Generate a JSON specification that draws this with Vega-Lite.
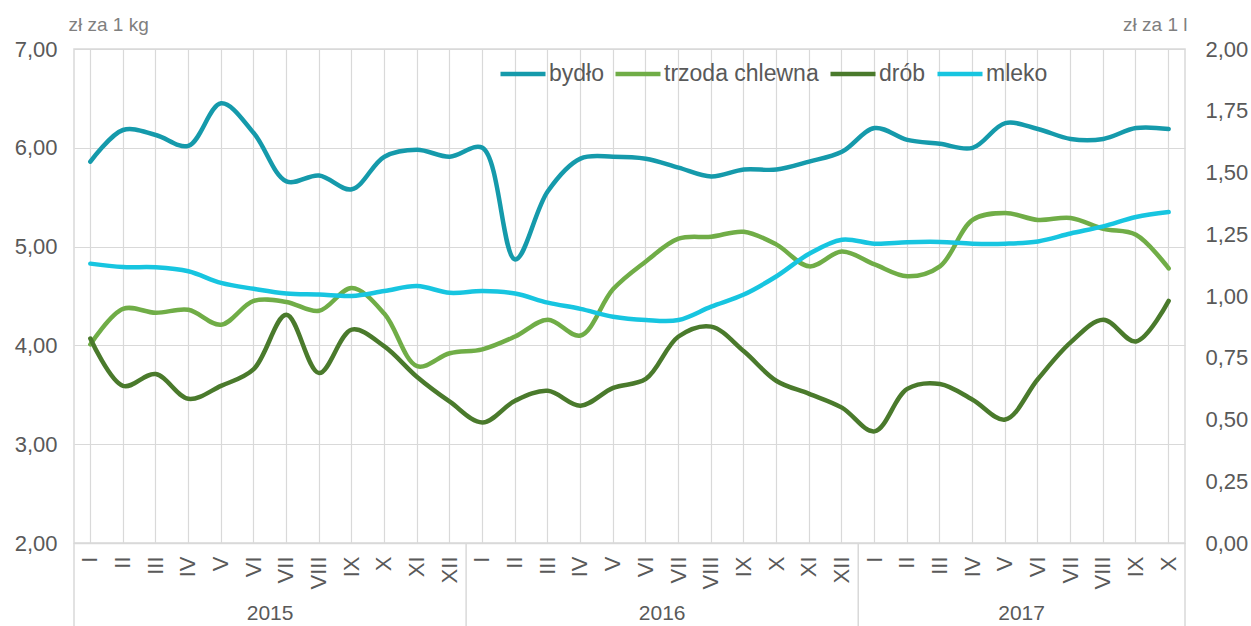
{
"$schema": "https://vega.github.io/schema/vega-lite/v6.json",
"autosize": {"type": "none"},
"width": 1111,
"height": 494,
"padding": {"left": 74, "top": 49, "right": 66, "bottom": 83},
"background": "white",
"datasets": {
"ceny": [
{"okres":"2015-01","seria":"bydło","cena":5.86},{"okres":"2015-02","seria":"bydło","cena":6.18},{"okres":"2015-03","seria":"bydło","cena":6.13},{"okres":"2015-04","seria":"bydło","cena":6.02},{"okres":"2015-05","seria":"bydło","cena":6.45},{"okres":"2015-06","seria":"bydło","cena":6.15},{"okres":"2015-07","seria":"bydło","cena":5.66},{"okres":"2015-08","seria":"bydło","cena":5.72},{"okres":"2015-09","seria":"bydło","cena":5.58},{"okres":"2015-10","seria":"bydło","cena":5.91},{"okres":"2015-11","seria":"bydło","cena":5.98},{"okres":"2015-12","seria":"bydło","cena":5.91},
{"okres":"2016-01","seria":"bydło","cena":6.00},{"okres":"2016-02","seria":"bydło","cena":4.87},{"okres":"2016-03","seria":"bydło","cena":5.56},{"okres":"2016-04","seria":"bydło","cena":5.89},{"okres":"2016-05","seria":"bydło","cena":5.91},{"okres":"2016-06","seria":"bydło","cena":5.89},{"okres":"2016-07","seria":"bydło","cena":5.80},{"okres":"2016-08","seria":"bydło","cena":5.71},{"okres":"2016-09","seria":"bydło","cena":5.78},{"okres":"2016-10","seria":"bydło","cena":5.78},{"okres":"2016-11","seria":"bydło","cena":5.86},{"okres":"2016-12","seria":"bydło","cena":5.96},
{"okres":"2017-01","seria":"bydło","cena":6.20},{"okres":"2017-02","seria":"bydło","cena":6.08},{"okres":"2017-03","seria":"bydło","cena":6.04},{"okres":"2017-04","seria":"bydło","cena":6.00},{"okres":"2017-05","seria":"bydło","cena":6.25},{"okres":"2017-06","seria":"bydło","cena":6.19},{"okres":"2017-07","seria":"bydło","cena":6.09},{"okres":"2017-08","seria":"bydło","cena":6.09},{"okres":"2017-09","seria":"bydło","cena":6.20},{"okres":"2017-10","seria":"bydło","cena":6.19},
{"okres":"2015-01","seria":"trzoda chlewna","cena":4.01},{"okres":"2015-02","seria":"trzoda chlewna","cena":4.37},{"okres":"2015-03","seria":"trzoda chlewna","cena":4.33},{"okres":"2015-04","seria":"trzoda chlewna","cena":4.36},{"okres":"2015-05","seria":"trzoda chlewna","cena":4.21},{"okres":"2015-06","seria":"trzoda chlewna","cena":4.45},{"okres":"2015-07","seria":"trzoda chlewna","cena":4.44},{"okres":"2015-08","seria":"trzoda chlewna","cena":4.35},{"okres":"2015-09","seria":"trzoda chlewna","cena":4.58},{"okres":"2015-10","seria":"trzoda chlewna","cena":4.32},{"okres":"2015-11","seria":"trzoda chlewna","cena":3.79},{"okres":"2015-12","seria":"trzoda chlewna","cena":3.92},
{"okres":"2016-01","seria":"trzoda chlewna","cena":3.96},{"okres":"2016-02","seria":"trzoda chlewna","cena":4.09},{"okres":"2016-03","seria":"trzoda chlewna","cena":4.26},{"okres":"2016-04","seria":"trzoda chlewna","cena":4.10},{"okres":"2016-05","seria":"trzoda chlewna","cena":4.57},{"okres":"2016-06","seria":"trzoda chlewna","cena":4.85},{"okres":"2016-07","seria":"trzoda chlewna","cena":5.08},{"okres":"2016-08","seria":"trzoda chlewna","cena":5.10},{"okres":"2016-09","seria":"trzoda chlewna","cena":5.15},{"okres":"2016-10","seria":"trzoda chlewna","cena":5.02},{"okres":"2016-11","seria":"trzoda chlewna","cena":4.80},{"okres":"2016-12","seria":"trzoda chlewna","cena":4.95},
{"okres":"2017-01","seria":"trzoda chlewna","cena":4.82},{"okres":"2017-02","seria":"trzoda chlewna","cena":4.70},{"okres":"2017-03","seria":"trzoda chlewna","cena":4.80},{"okres":"2017-04","seria":"trzoda chlewna","cena":5.27},{"okres":"2017-05","seria":"trzoda chlewna","cena":5.34},{"okres":"2017-06","seria":"trzoda chlewna","cena":5.27},{"okres":"2017-07","seria":"trzoda chlewna","cena":5.29},{"okres":"2017-08","seria":"trzoda chlewna","cena":5.18},{"okres":"2017-09","seria":"trzoda chlewna","cena":5.12},{"okres":"2017-10","seria":"trzoda chlewna","cena":4.78},
{"okres":"2015-01","seria":"drób","cena":4.07},{"okres":"2015-02","seria":"drób","cena":3.59},{"okres":"2015-03","seria":"drób","cena":3.71},{"okres":"2015-04","seria":"drób","cena":3.46},{"okres":"2015-05","seria":"drób","cena":3.59},{"okres":"2015-06","seria":"drób","cena":3.76},{"okres":"2015-07","seria":"drób","cena":4.31},{"okres":"2015-08","seria":"drób","cena":3.72},{"okres":"2015-09","seria":"drób","cena":4.16},{"okres":"2015-10","seria":"drób","cena":3.99},{"okres":"2015-11","seria":"drób","cena":3.68},{"okres":"2015-12","seria":"drób","cena":3.43},
{"okres":"2016-01","seria":"drób","cena":3.22},{"okres":"2016-02","seria":"drób","cena":3.44},{"okres":"2016-03","seria":"drób","cena":3.54},{"okres":"2016-04","seria":"drób","cena":3.39},{"okres":"2016-05","seria":"drób","cena":3.57},{"okres":"2016-06","seria":"drób","cena":3.66},{"okres":"2016-07","seria":"drób","cena":4.09},{"okres":"2016-08","seria":"drób","cena":4.19},{"okres":"2016-09","seria":"drób","cena":3.94},{"okres":"2016-10","seria":"drób","cena":3.64},{"okres":"2016-11","seria":"drób","cena":3.51},{"okres":"2016-12","seria":"drób","cena":3.37},
{"okres":"2017-01","seria":"drób","cena":3.13},{"okres":"2017-02","seria":"drób","cena":3.56},{"okres":"2017-03","seria":"drób","cena":3.61},{"okres":"2017-04","seria":"drób","cena":3.45},{"okres":"2017-05","seria":"drób","cena":3.25},{"okres":"2017-06","seria":"drób","cena":3.66},{"okres":"2017-07","seria":"drób","cena":4.03},{"okres":"2017-08","seria":"drób","cena":4.26},{"okres":"2017-09","seria":"drób","cena":4.04},{"okres":"2017-10","seria":"drób","cena":4.45},
{"okres":"2015-01","seria":"mleko","cena":1.131},{"okres":"2015-02","seria":"mleko","cena":1.117},{"okres":"2015-03","seria":"mleko","cena":1.116},{"okres":"2015-04","seria":"mleko","cena":1.100},{"okres":"2015-05","seria":"mleko","cena":1.053},{"okres":"2015-06","seria":"mleko","cena":1.029},{"okres":"2015-07","seria":"mleko","cena":1.010},{"okres":"2015-08","seria":"mleko","cena":1.006},{"okres":"2015-09","seria":"mleko","cena":1.000},{"okres":"2015-10","seria":"mleko","cena":1.020},{"okres":"2015-11","seria":"mleko","cena":1.040},{"okres":"2015-12","seria":"mleko","cena":1.013},
{"okres":"2016-01","seria":"mleko","cena":1.020},{"okres":"2016-02","seria":"mleko","cena":1.010},{"okres":"2016-03","seria":"mleko","cena":0.973},{"okres":"2016-04","seria":"mleko","cena":0.948},{"okres":"2016-05","seria":"mleko","cena":0.916},{"okres":"2016-06","seria":"mleko","cena":0.903},{"okres":"2016-07","seria":"mleko","cena":0.903},{"okres":"2016-08","seria":"mleko","cena":0.957},{"okres":"2016-09","seria":"mleko","cena":1.006},{"okres":"2016-10","seria":"mleko","cena":1.080},{"okres":"2016-11","seria":"mleko","cena":1.171},{"okres":"2016-12","seria":"mleko","cena":1.228},
{"okres":"2017-01","seria":"mleko","cena":1.212},{"okres":"2017-02","seria":"mleko","cena":1.218},{"okres":"2017-03","seria":"mleko","cena":1.219},{"okres":"2017-04","seria":"mleko","cena":1.212},{"okres":"2017-05","seria":"mleko","cena":1.212},{"okres":"2017-06","seria":"mleko","cena":1.221},{"okres":"2017-07","seria":"mleko","cena":1.253},{"okres":"2017-08","seria":"mleko","cena":1.282},{"okres":"2017-09","seria":"mleko","cena":1.320},{"okres":"2017-10","seria":"mleko","cena":1.340}
],
"lata": [
{"okres":"2015-06","rok":"2015"},{"okres":"2016-06","rok":"2016"},{"okres":"2017-05","rok":"2017"}
],
"granice": [
{"okres":"2015-12"},{"okres":"2016-12"},{"okres":"2017-10"}
],
"start": [
{"okres":"2015-01"}
]
},
"layer": [
{
"layer": [
{
"data": {"name": "ceny"},
"transform": [{"filter": "datum.seria != 'mleko'"}],
"mark": {"type": "line", "interpolate": "catmull-rom", "strokeWidth": 4.5, "strokeCap": "round"},
"encoding": {
"x": {"field": "okres", "type": "ordinal", "bandPosition": 0.5, "scale": {"type": "band", "paddingInner": 0, "paddingOuter": 0}, "axis": {"title": null, "labelExpr": "['I','II','III','IV','V','VI','VII','VIII','IX','X','XI','XII'][toNumber(slice(datum.label, 5)) - 1]"}},
"y": {"field": "cena", "type": "quantitative", "scale": {"domain": [2, 7], "nice": false, "zero": false}, "axis": {"title": "zł za 1 kg", "orient": "left", "values": [2, 3, 4, 5, 6, 7], "labelExpr": "replace(format(datum.value, '.2f'), '.', ',')"}},
"color": {"field": "seria", "type": "nominal", "scale": {"domain": ["bydło", "trzoda chlewna", "drób", "mleko"], "range": ["#159aab", "#70ad47", "#4a7a2c", "#17c5e0"]}, "legend": {"title": null}}
}
},
{
"data": {"name": "granice"},
"mark": {"type": "rule", "color": "#d9d9d9", "strokeWidth": 1.5},
"encoding": {
"x": {"field": "okres", "type": "ordinal", "bandPosition": 1},
"y": {"datum": 2, "type": "quantitative"},
"y2": {"datum": 1.1}
}
},
{
"data": {"name": "start"},
"mark": {"type": "rule", "color": "#d9d9d9", "strokeWidth": 1.5},
"encoding": {
"x": {"field": "okres", "type": "ordinal", "bandPosition": 0},
"y": {"datum": 2, "type": "quantitative"},
"y2": {"datum": 1.1}
}
},
{
"data": {"name": "lata"},
"mark": {"type": "text", "fontSize": 21, "color": "#595959", "font": "Liberation Sans", "align": "center", "baseline": "middle"},
"encoding": {
"x": {"field": "okres", "type": "ordinal", "bandPosition": 1},
"y": {"datum": 1.28, "type": "quantitative"},
"text": {"field": "rok"}
}
}
]
},
{
"data": {"name": "ceny"},
"transform": [{"filter": "datum.seria == 'mleko'"}],
"mark": {"type": "line", "interpolate": "catmull-rom", "strokeWidth": 4.5, "strokeCap": "round"},
"encoding": {
"x": {"field": "okres", "type": "ordinal", "bandPosition": 0.5},
"y": {"field": "cena", "type": "quantitative", "scale": {"domain": [0, 2], "nice": false, "zero": true}, "axis": {"title": "zł za 1 l", "orient": "right", "values": [0, 0.25, 0.5, 0.75, 1, 1.25, 1.5, 1.75, 2], "grid": false, "labelExpr": "replace(format(datum.value, '.2f'), '.', ',')"}},
"color": {"field": "seria", "type": "nominal", "legend": {"title": null}}
}
}
],
"resolve": {"scale": {"y": "independent"}},
"config": {
"font": "Liberation Sans",
"view": {"stroke": "#d9d9d9", "strokeWidth": 1.5},
"axis": {"labelFont": "Liberation Sans", "labelFontSize": 22, "labelColor": "#595959", "ticks": false, "tickSize": 0, "domainColor": "#d9d9d9", "gridColor": "#d9d9d9", "gridWidth": 1.2, "titleFont": "Liberation Sans", "titleFontSize": 19, "titleFontWeight": "normal", "titleColor": "#7f7f7f", "labelOverlap": false},
"axisX": {"labelAngle": -90, "labelPadding": 13, "grid": true, "domain": true, "domainWidth": 1.5, "labelAlign": "right", "labelBaseline": "middle"},
"axisY": {"domain": false, "titleAngle": 0, "titleBaseline": "middle", "titleY": -25},
"axisLeft": {"grid": true, "labelPadding": 17, "titleX": -6, "titleAlign": "left"},
"axisRight": {"grid": false, "labelPadding": 20, "titleX": 2, "titleAlign": "right"},
"legend": {"orient": "none", "legendX": 424, "legendY": 0, "direction": "horizontal", "columns": 4, "symbolType": "stroke", "symbolSize": 2025, "symbolStrokeWidth": 4.5, "labelFont": "Liberation Sans", "labelFontSize": 23, "labelColor": "#595959", "labelOffset": 1, "columnPadding": 2, "labelLimit": 300, "padding": 0}
}
}
